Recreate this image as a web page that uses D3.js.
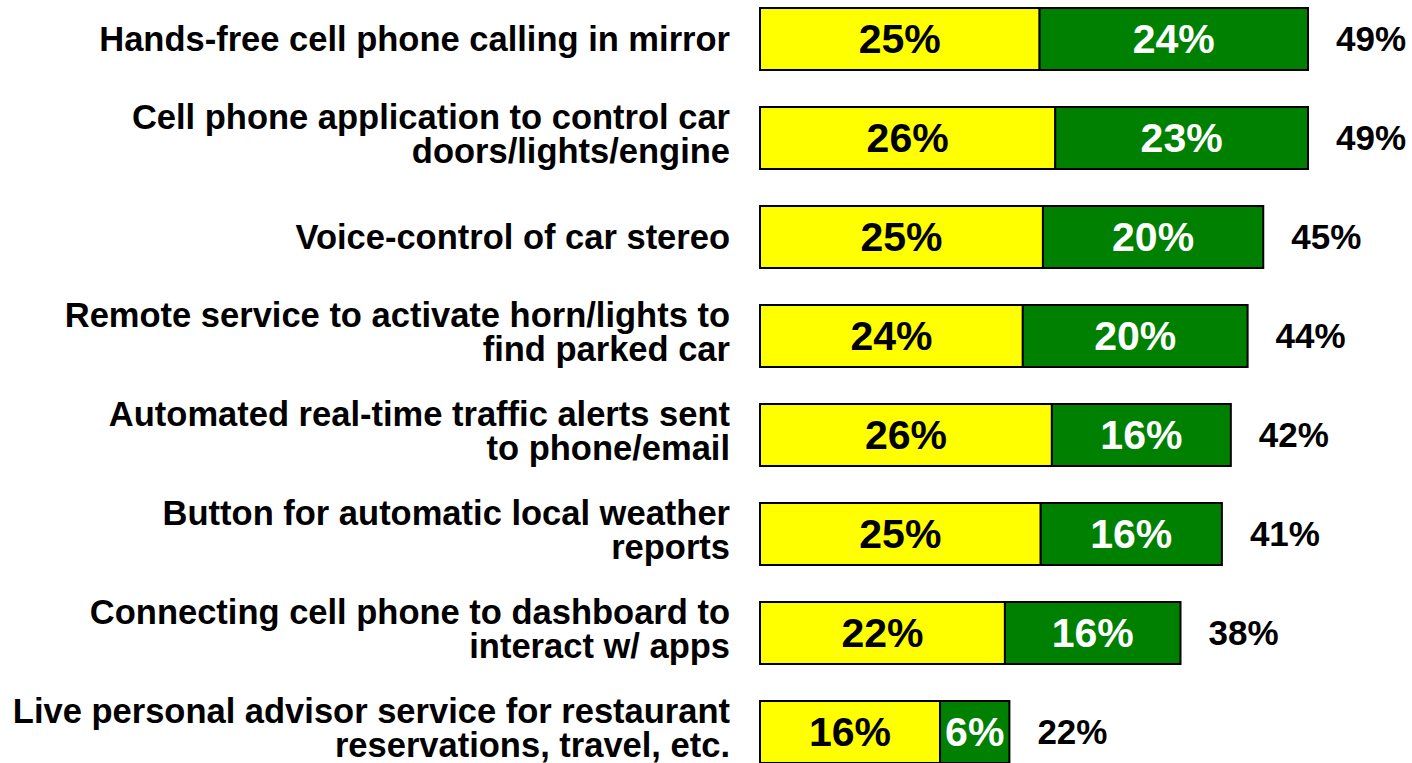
<!DOCTYPE html>
<html>
<head>
<meta charset="utf-8">
<script src="https://cdn.jsdelivr.net/npm/d3@7"></script>
<style>
  body { margin: 0; background: #fff; }
  svg { display: block; font-family: "Liberation Sans", Arial, sans-serif; font-weight: bold; }
</style>
</head>
<body>
<svg id="chart"></svg>
<script>
// categories, lines split by "\n"
const categories = [
  "Hands-free cell phone calling in mirror",
  "Cell phone application to control car\ndoors/lights/engine",
  "Voice-control of car stereo",
  "Remote service to activate horn/lights to\nfind parked car",
  "Automated real-time traffic alerts sent\nto phone/email",
  "Button for automatic local weather\nreports",
  "Connecting cell phone to dashboard to\ninteract w/ apps",
  "Live personal advisor service for restaurant\nreservations, travel, etc."
];
// yellow segment
const firstValues  = [25.0, 26.4, 25.3, 23.5, 26.1, 25.1, 21.9, 16.1];
// green segment
const secondValues = [24.0, 22.6, 19.7, 20.1, 16.0, 16.2, 15.7, 6.2];
// printed labels
const firstLabels  = ["25%", "26%", "25%", "24%", "26%", "25%", "22%", "16%"];
const secondLabels = ["24%", "23%", "20%", "20%", "16%", "16%", "16%", "6%"];
const totalLabels  = ["49%", "49%", "45%", "44%", "42%", "41%", "38%", "22%"];

const width = 1412;
const height = 763;

const svg = d3.select('svg#chart')
  .attr('width', width)
  .attr('height', height);

const y = d3.scaleBand()
  .domain(d3.range(categories.length))
  .range([-10.5, 781.5])
  .paddingInner(0.374)
  .paddingOuter(0.187);

const x = d3.scaleLinear()
  .domain([0, 49])
  .range([760, 1308]);

const data = categories.map((c, i) => ({
  i: i, name: c,
  a: firstValues[i], b: secondValues[i],
  la: firstLabels[i], lb: secondLabels[i], lt: totalLabels[i]
}));

const rows = svg.selectAll('g.row')
  .data(data)
  .enter()
  .append('g')
    .attr('class', 'row')
    .attr('transform', d => `translate(0, ${y(d.i)})`);

const bw = y.bandwidth();

// yellow part
rows.append('rect')
  .attr('x', x(0))
  .attr('y', 0)
  .attr('width', d => x(d.a) - x(0))
  .attr('height', bw)
  .style('fill', '#ffff00')
  .style('stroke', '#000')
  .style('stroke-width', 2);

// green part
rows.append('rect')
  .attr('x', d => x(d.a))
  .attr('y', 0)
  .attr('width', d => x(d.a + d.b) - x(d.a))
  .attr('height', bw)
  .style('fill', '#008000')
  .style('stroke', '#000')
  .style('stroke-width', 2);

rows.append('text')
  .attr('x', d => (x(0) + x(d.a)) / 2)
  .attr('y', bw / 2 + 14.5)
  .attr('text-anchor', 'middle')
  .attr('font-size', '41px')
  .attr('fill', '#000')
  .text(d => d.la);

rows.append('text')
  .attr('x', d => (x(d.a) + x(d.a + d.b)) / 2)
  .attr('y', bw / 2 + 14.5)
  .attr('text-anchor', 'middle')
  .attr('font-size', '41px')
  .attr('fill', '#fff')
  .text(d => d.lb);

rows.append('text')
  .attr('x', d => x(d.a + d.b) + 28)
  .attr('y', bw / 2 + 12)
  .attr('font-size', '35px')
  .attr('fill', '#000')
  .text(d => d.lt);

// category labels
const lineH = 34.5;
rows.append('text')
  .attr('text-anchor', 'end')
  .attr('font-size', '34.5px')
  .attr('fill', '#000')
  .each(function(d) {
    const lines = d.name.split('\n');
    const t = d3.select(this);
    // two-line labels sit a little higher than the bar middle
    const y0 = lines.length > 1 ? 21.5 : bw / 2 + 12;
    lines.forEach((l, k) => {
      t.append('tspan')
        .attr('x', 730)
        .attr('y', y0 + k * lineH)
        .text(l);
    });
  });
</script>
</body>
</html>
